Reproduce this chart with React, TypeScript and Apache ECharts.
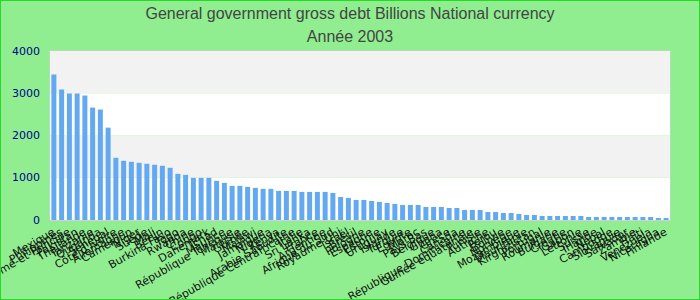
import React, { useEffect, useRef } from "react";
import * as echarts from "echarts";

const titleLines = ["General government gross debt Billions National currency", "Année 2003"];

const countries = [
  "Mexique", "Philippines", "Sao Tomé-et-Principe", "Pakistan", "Thaïlande", "Tanzanie", "Ouganda", "Sénégal",
  "Côte d'Ivoire", "Allemagne", "Cameroun", "Niger", "Suède", "Mali", "Bénin", "Burkina Faso",
  "Togo", "Rwanda", "Chine", "Congo", "Danemark", "Tchad", "Maurice", "République Tchèque",
  "Malaisie", "Guinée", "Malawi", "Jamaïque", "Nigeria", "Kenya", "Arabie Saoudite", "République Centrafricaine",
  "Italie", "Sri Lanka", "France", "Argentine", "Afrique du Sud", "Royaume-Uni", "Israël", "Brésil",
  "Pologne", "Espagne", "Estonie", "Uruguay", "Islande", "Turquie", "Égypte", "Maroc",
  "Pays-Bas", "Belgique", "Ghana", "Grèce", "Canada", "République Dominicaine", "Guinée équatoriale", "Tunisie",
  "Autriche", "Pérou", "Bolivie", "Norvège", "Mozambique", "Mauritanie", "Kirghizistan", "Portugal",
  "Roumanie", "Bulgarie", "Croatie", "Gabon", "Lettonie", "Suisse", "Irlande", "Népal",
  "Cambodge", "Slovaquie", "Salvador", "Zambie", "Haïti", "Venezuela", "Nicaragua", "Finlande",
];

const debt = [
  3446, 3089, 2994, 2994, 2946, 2661, 2614, 2186,
  1473, 1402, 1378, 1354, 1331, 1307, 1283, 1236,
  1093, 1069, 998, 998, 998, 927, 879, 808,
  808, 784, 760, 737, 737, 689, 689, 689,
  665, 665, 665, 665, 641, 546, 523, 475,
  475, 451, 428, 404, 380, 356, 356, 356,
  309, 309, 309, 285, 285, 238, 238, 238,
  190, 190, 166, 166, 143, 119, 119, 95,
  95, 95, 95, 95, 95, 71, 71, 71,
  71, 71, 71, 71, 71, 71, 48, 48,
];

const yTicks = [0, 1000, 2000, 3000, 4000];

export default function App() {
  const ref = useRef<HTMLDivElement>(null);
  useEffect(() => {
    if (!ref.current) return;
    const chart = echarts.init(ref.current, undefined, { renderer: "svg" });
    chart.setOption({
      animation: false,
      backgroundColor: "#90EE90",
      title: {
        text: titleLines.join("\n"),
        left: "center",
        top: -3,
        textStyle: {
          fontFamily: "Liberation Sans, Arial, sans-serif",
          fontSize: 16,
          fontWeight: "normal",
          color: "#444",
          lineHeight: 23,
        },
      },
      graphic: [
        {
          type: "rect",
          shape: { x: 0, y: 0, width: 700, height: 300 },
          style: { fill: "none", stroke: "#22dd22", lineWidth: 2 },
          silent: true,
          z: 100,
        },
      ],
      grid: {
        left: 50,
        right: 30,
        top: 51,
        bottom: 80,
        show: true,
        borderColor: "#d0d0d0",
        borderWidth: 1,
        containLabel: false,
        outerBoundsMode: "none",
      },
      xAxis: {
        type: "category",
        data: countries,
        axisTick: { show: false },
        axisLine: { show: true, lineStyle: { color: "#d0d0d0" } },
        axisLabel: {
          interval: 0,
          rotate: 30,
          fontSize: 11,
          margin: 11,
          color: "#111",
          fontFamily: "DejaVu Sans, sans-serif",
        },
      },
      yAxis: {
        type: "value",
        min: yTicks[0],
        max: yTicks[yTicks.length - 1],
        interval: 1000,
        axisLine: { show: false },
        axisTick: { show: false },
        splitLine: { show: false },
        splitArea: { show: true, areaStyle: { color: ["#ffffff", "#f2f2f2"] } },
        axisLabel: {
          fontSize: 11,
          margin: 10,
          color: "#00008b",
          fontFamily: "DejaVu Sans, sans-serif",
          formatter: (v: number) => String(v),
        },
      },
      series: [
        {
          type: "bar",
          data: debt,
          barWidth: 5,
          itemStyle: { color: "#63a9f2" },
        },
      ],
    });
    return () => chart.dispose();
  }, []);
  return (
    <div
      ref={ref}
      style={{ position: "fixed", left: 0, top: 0, width: 700, height: 300 }}
    />
  );
}
